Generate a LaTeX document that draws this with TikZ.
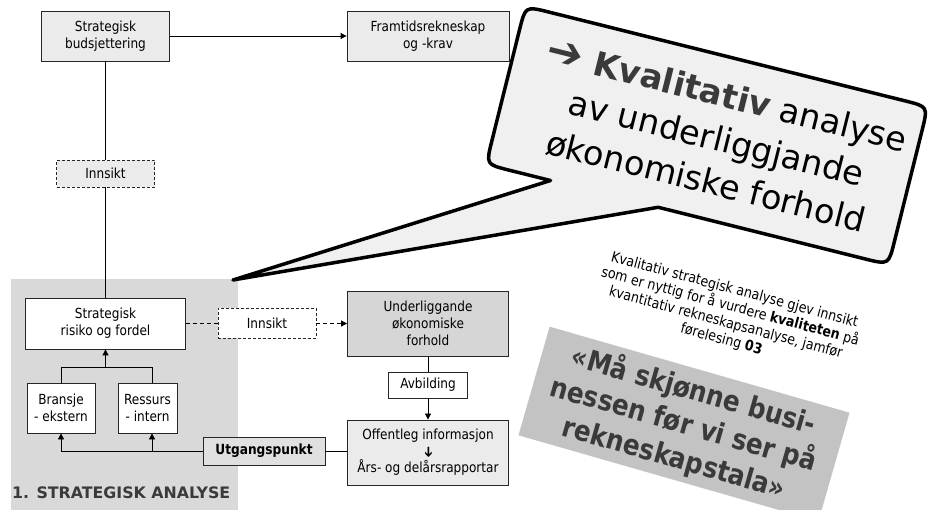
\documentclass[tikz,border=0pt]{standalone}
\usepackage{fontspec}
\usepackage{graphicx}
\setmainfont{DejaVu Sans}[FakeStretch=0.87]
\newfontfamily\widefont{DejaVu Sans}
\usetikzlibrary{arrows.meta,calc}
\definecolor{boxfill}{HTML}{EBEBEB}
\definecolor{ulfill}{HTML}{D6D6D6}
\definecolor{utfill}{HTML}{E0E0E0}
\definecolor{bgfill}{HTML}{D9D9D9}
\definecolor{bubblefill}{HTML}{F0F0F0}
\definecolor{quotefill}{HTML}{C3C3C3}
\definecolor{darktext}{HTML}{3A3A3A}
\begin{document}
\begin{tikzpicture}[x=1pt,y=-1pt,
  box/.style={draw=black!85, line width=0.8pt, fill=boxfill, align=center, inner sep=2pt,
    font=\fontsize{13.9}{17}\selectfont, text=black},
  wbox/.style={box, fill=white},
  dbox/.style={box, dash pattern=on 3pt off 2pt},
  line/.style={draw=black, line width=0.8pt},
  arr/.style={line, -{Triangle[length=6pt,width=6pt]}},
  darr/.style={arr, dash pattern=on 4pt off 3pt},
  dline/.style={line, dash pattern=on 4pt off 3pt},
  bubble/.style={draw=black, line width=3.5pt, fill=bubblefill, line join=round}
]
\useasboundingbox (0,0) rectangle (929,510);
\clip (0,0) rectangle (929,510);

% background of strategic analysis
\fill[bgfill] (11,279) rectangle (238,515);
\node[anchor=base west, inner sep=0, text=darktext,
  font=\widefont\bfseries\fontsize{15.8}{19}\selectfont] (title) at (12,498) {1. STRATEGISK ANALYSE};

% nodes
\node[box, minimum width=128pt, minimum height=50pt] (sb) at (105.5,36) {Strategisk\\budsjettering};
\node[box, minimum width=162pt, minimum height=50pt] (fr) at (428,36) {Framtidsrekneskap\\og -krav};
\node[dbox, minimum width=98pt, minimum height=27pt] (in1) at (105.5,173.5) {Innsikt};
\node[wbox, minimum width=160pt, minimum height=51pt] (sr) at (105.5,323.5) {Strategisk\\risiko og fordel};
\node[wbox, minimum width=68pt, minimum height=50pt] (br) at (61,408) {Bransje\\- ekstern};
\node[wbox, minimum width=59pt, minimum height=50pt] (re) at (147.5,408) {Ressurs\\- intern};
\node[box, fill=utfill, font=\bfseries\fontsize{14}{17}\selectfont, minimum width=122pt, minimum height=28pt] (ut) at (264,451) {Utgangspunkt};
\node[dbox, fill=white, minimum width=98pt, minimum height=30pt] (in2) at (267,323.5) {Innsikt};
\node[box, fill=ulfill, minimum width=161pt, minimum height=65pt, font=\fontsize{13.9}{16.7}\selectfont] (ul) at (428,323.5) {Underliggande\\økonomiske\\forhold};
\node[wbox, minimum width=79pt, minimum height=26pt] (av) at (428,385) {Avbilding};
\node[box, minimum width=161pt, minimum height=65pt, font=\fontsize{13.9}{16.5}\selectfont] (of) at (428,452.5) {Offentleg informasjon\\\rotatebox[origin=c]{-90}{\widefont\fontsize{14}{14}\selectfont ➔}\\Års- og delårsrapportar};

\coordinate (rx) at (152,367);

% connectors
\draw[arr] (sb.east) -- (fr.west);
\draw[line] (sb.south) -- (in1.north);
\draw[line] (in1.south) -- (sr.north);
\draw[line] (br.north) |- (rx) -- (re.north -| rx);
\draw[arr] (sr.south |- rx) -- (sr.south);
\draw[arr] (ut.west) -| (br.south);
\draw[arr] (ut.west -| rx) -- (re.south -| rx);
\draw[line] (ut.east) -- (ut.east -| of.west);
\draw[dline] (sr.east) -- (in2.west);
\draw[darr] (in2.east) -- (ul.west);
\draw[line] (ul.south) -- (av.north);
\draw[arr] (av.south) -- (of.north);

% speech bubble
\coordinate (TL) at (525.4,6.2);
\coordinate (TR) at (928,106.6);
\coordinate (BR) at (888.6,264.8);
\coordinate (BL) at (486,164.4);
\coordinate (P1) at (550.5,180.5);
\coordinate (P2) at (658.2,207.3);
\coordinate (tip) at (233,280);
\path[bubble] (P2) -- ($(BR)!24pt!(P2)$) .. controls (BR) .. ($(BR)!24pt!(TR)$)
  -- ($(TR)!24pt!(BR)$) .. controls (TR) .. ($(TR)!24pt!(TL)$)
  -- ($(TL)!24pt!(TR)$) .. controls (TL) .. ($(TL)!24pt!(BL)$)
  -- ($(BL)!24pt!(TL)$) .. controls (BL) .. ($(BL)!24pt!(P1)$)
  -- (P1) -- (tip) -- cycle;
\node[rotate=-14, align=center, inner sep=0, font=\widefont\fontsize{33.5}{44}\selectfont] (bt) at (716.5,138.5)
  {{\color{darktext}\bfseries\scalebox{1.3}{➔} Kvalitativ} analyse\\av underliggjande\\økonomiske forhold};

% note
\node[rotate=-15, align=center, inner sep=0, font=\fontsize{14.5}{17}\selectfont] (note) at (728,315)
  {Kvalitativ strategisk analyse gjev innsikt\\som er nyttig for å vurdere \textbf{kvaliteten} på\\kvantitativ rekneskapsanalyse, jamfør\\førelesing \textbf{03}};

% quote
\node[rotate=-16, fill=quotefill, minimum width=312pt, minimum height=113pt, inner sep=0,
  align=center, text=darktext, font=\bfseries\fontsize{28.5}{35}\selectfont] (quote) at (684,424)
  {«Må skjønne busi-\\nessen før vi ser på\\rekneskapstala»};
\end{tikzpicture}
\end{document}
